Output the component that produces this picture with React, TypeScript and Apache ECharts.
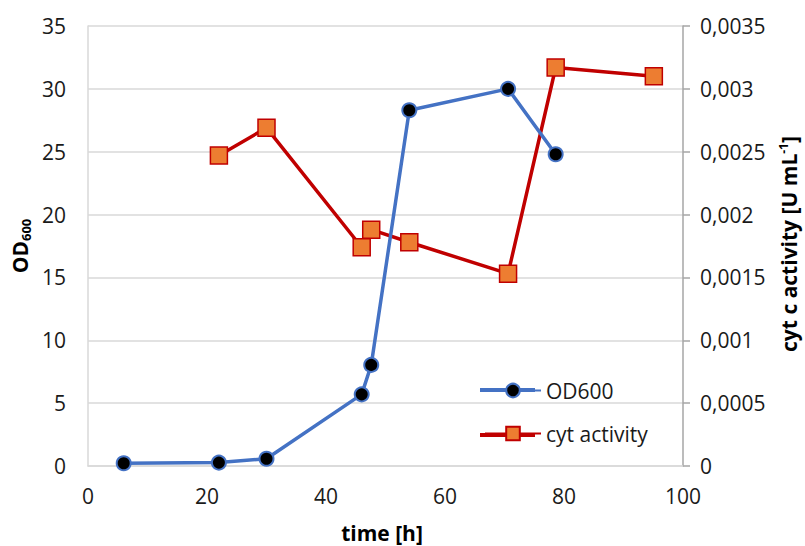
import React, { useEffect, useRef } from "react";
import * as echarts from "echarts";

const odTime = [6, 22, 30, 46, 47.6, 54, 70.6, 78.6];
const odValues = [0.22, 0.27, 0.58, 5.7, 8.04, 28.3, 30.0, 24.8];
const cytTime = [22, 30, 46, 47.6, 54, 70.6, 78.6, 95.1];
const cytValues = [0.00247, 0.00269, 0.00174, 0.00188, 0.00178, 0.00153, 0.00317, 0.0031];
const seriesNames = ["OD600", "cyt activity"];

const FONT = "'Open Sans', sans-serif";
const TEXT = "#1a1a1a";

export default function App() {
  const ref = useRef<HTMLDivElement>(null);
  useEffect(() => {
    document.body.style.margin = "0";
    const chart = echarts.init(ref.current!, undefined, { renderer: "svg" });
    const option: any = {
      animation: false,
      backgroundColor: "#fff",
      textStyle: { fontFamily: FONT },
      grid: { left: 88, right: 122, top: 26, bottom: 80 },
      legend: {
        data: seriesNames,
        orient: "vertical",
        left: 479,
        top: 375,
        itemWidth: 56,
        itemHeight: 17,
        itemGap: 22,
        z: 10,
        textStyle: { fontSize: 21, color: TEXT, fontFamily: FONT },
      },
      xAxis: {
        type: "value",
        min: 0,
        max: 100,
        interval: 20,
        axisLine: { show: true, lineStyle: { color: "#D9D9D9", width: 1.5 } },
        axisTick: { show: false },
        splitLine: { show: false },
        axisLabel: { fontSize: 21, color: TEXT, margin: 19, fontFamily: FONT },
      },
      yAxis: [
        {
          type: "value",
          min: 0,
          max: 35,
          interval: 5,
          axisLine: { show: true, lineStyle: { color: "#D9D9D9", width: 1.5 } },
          axisTick: { show: false },
          splitLine: { show: true, lineStyle: { color: "#D9D9D9", width: 1.5 } },
          axisLabel: { fontSize: 21, color: TEXT, margin: 22, fontFamily: FONT },
        },
        {
          type: "value",
          position: "right",
          min: 0,
          max: 0.0035,
          interval: 0.0005,
          axisLine: { show: true, lineStyle: { color: "#A6A6A6", width: 1.5 } },
          axisTick: { show: true, length: 7, lineStyle: { color: "#A6A6A6", width: 1.5 } },
          splitLine: { show: false },
          axisLabel: {
            fontSize: 21,
            color: TEXT,
            margin: 17,
            fontFamily: FONT,
            formatter: (v: number) => parseFloat(v.toFixed(4)).toString().replace(".", ","),
          },
        },
      ],
      series: [
        {
          name: seriesNames[0],
          type: "line",
          yAxisIndex: 0,
          data: odTime.map((t, i) => [t, odValues[i]]),
          symbol: "circle",
          symbolSize: 14,
          itemStyle: { color: "#000", borderColor: "#4472C4", borderWidth: 2 },
          lineStyle: { color: "#4472C4", width: 3.5 },
          z: 3,
        },
        {
          name: seriesNames[1],
          type: "line",
          yAxisIndex: 1,
          data: cytTime.map((t, i) => [t, cytValues[i]]),
          symbol: "rect",
          symbolSize: 17,
          itemStyle: { color: "#ED7D31", borderColor: "#C00000", borderWidth: 1.5 },
          lineStyle: { color: "#C00000", width: 3.5 },
          z: 2,
        },
      ],
      graphic: [
        {
          type: "line",
          z: 5,
          shape: { x1: 480, y1: 390, x2: 535, y2: 390 },
          style: { stroke: "#4472C4", lineWidth: 4 },
        },
        {
          type: "line",
          z: 5,
          shape: { x1: 480, y1: 435, x2: 535, y2: 435 },
          style: { stroke: "#C00000", lineWidth: 4 },
        },
        {
          type: "text",
          x: 20,
          y: 246,
          rotation: Math.PI / 2,
          style: {
            text: "{m|OD}{s|600}",
            align: "center",
            verticalAlign: "middle",
            rich: {
              m: { fontSize: 21, fontWeight: "bold", fontFamily: FONT, fill: "#000", lineHeight: 24 },
              s: { fontSize: 13, fontWeight: "bold", fontFamily: FONT, fill: "#000", lineHeight: 10, verticalAlign: "bottom" },
            },
          },
        },
        {
          type: "text",
          x: 789,
          y: 244,
          rotation: Math.PI / 2,
          style: {
            text: "{m|cyt c activity [U mL}{s|-1}{m|]}",
            align: "center",
            verticalAlign: "middle",
            rich: {
              m: { fontSize: 21, fontWeight: "bold", fontFamily: FONT, fill: "#000", lineHeight: 24 },
              s: { fontSize: 12, fontWeight: "bold", fontFamily: FONT, fill: "#000", lineHeight: 10, verticalAlign: "top" },
            },
          },
        },
        {
          type: "text",
          x: 382,
          y: 533,
          style: {
            text: "time [h]",
            align: "center",
            verticalAlign: "middle",
            fontSize: 21,
            fontWeight: "bold",
            fontFamily: FONT,
            fill: "#000",
          },
        },
      ],
    };
    chart.setOption(option);
    return () => chart.dispose();
  }, []);
  return <div ref={ref} style={{ width: 805, height: 546 }} />;
}
